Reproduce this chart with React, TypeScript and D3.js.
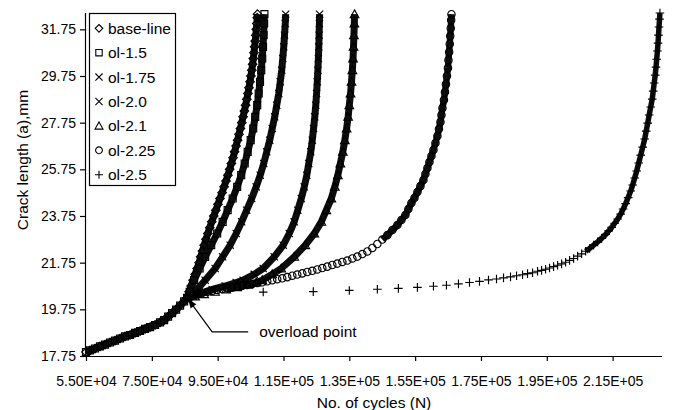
import * as d3 from "d3";
import React, { useEffect, useRef } from "react";

const W = 675;
const H = 410;

const xTicks = [55000, 75000, 95000, 115000, 135000, 155000, 175000, 195000, 215000];
const yTicks = [17.75, 19.75, 21.75, 23.75, 25.75, 27.75, 29.75, 31.75];
const seriesNames = ["base-line", "ol-1.5", "ol-1.75", "ol-2.0", "ol-2.1", "ol-2.25", "ol-2.5"];

// common growth up to the overload (N, a)
const preLoad = [
  [55000, 17.92], [56220, 17.99], [57740, 18.07], [59260, 18.16], [60780, 18.24], [62300, 18.33],
  [63820, 18.41], [65340, 18.5], [66860, 18.59], [68380, 18.65], [69900, 18.74], [71430, 18.82],
  [72950, 18.91], [74470, 18.99], [75990, 19.08], [77510, 19.19], [78730, 19.29], [79940, 19.44],
  [81160, 19.59], [82380, 19.74], [83590, 19.91], [84810, 20.09], [85720, 20.24],
];

const baseLine = [
  ...preLoad,
  [86330, 20.5], [86940, 20.75], [87550, 21], [88160, 21.25], [88770, 21.5], [89370, 21.75],
  [89830, 22], [90380, 22.25], [90900, 22.5], [91440, 22.75], [92020, 23], [92600, 23.25],
  [93210, 23.5], [93820, 23.75], [94450, 24], [95090, 24.25], [95700, 24.5], [96340, 24.75],
  [96950, 25], [97530, 25.25], [98110, 25.5], [98650, 25.75], [99170, 26], [99690, 26.25],
  [100140, 26.5], [100600, 26.75], [101060, 27], [101480, 27.25], [101910, 27.5], [102330, 27.75],
  [102730, 28], [103120, 28.25], [103490, 28.5], [103850, 28.75], [104190, 29], [104520, 29.25],
  [104830, 29.5], [105100, 29.75], [105380, 30], [105620, 30.25], [105830, 30.5], [106040, 30.75],
  [106230, 31], [106410, 31.25], [106590, 31.5], [106740, 31.75], [106900, 32], [107020, 32.25],
  [107110, 32.4],
];

const ol15 = [
  ...preLoad,
  [86500, 20.5], [87850, 21], [89530, 21.5], [91200, 22], [93030, 22.5], [94850, 23],
  [96520, 23.5], [98040, 24], [99570, 24.5], [100930, 25], [102150, 25.5], [103220, 26],
  [104130, 26.5], [105040, 27], [105800, 27.5], [106410, 28], [107020, 28.5], [107470, 29],
  [107870, 29.5], [108240, 30], [108540, 30.5], [108780, 31], [108970, 31.5], [109120, 32],
  [109210, 32.4],
];

const ol175 = [
  [85720, 20.24], [88160, 20.5], [91200, 21], [94240, 21.5], [96520, 22], [98800, 22.5],
  [100630, 23], [102300, 23.5], [103820, 24], [105350, 24.5], [106710, 25], [107930, 25.5],
  [109000, 26], [109910, 26.5], [110820, 27], [111580, 27.5], [112340, 28], [112950, 28.5],
  [113560, 29], [114020, 29.5], [114470, 30], [114780, 30.5], [115080, 31], [115320, 31.5],
  [115540, 32], [115660, 32.4],
];

const ol20 = [
  [85720, 20.24], [87550, 20.3], [89070, 20.4], [91200, 20.5], [93330, 20.6], [97280, 20.75],
  [100630, 20.9], [102760, 21], [106110, 21.25], [108840, 21.5], [112190, 22], [114930, 22.5],
  [116750, 23], [118270, 23.5], [119340, 24], [120400, 24.5], [121320, 25], [122080, 25.5],
  [122680, 26], [123290, 26.5], [123750, 27], [124140, 27.5], [124510, 28], [124810, 28.5],
  [125060, 29], [125270, 29.5], [125450, 30], [125600, 30.5], [125730, 31], [125820, 31.5],
  [125910, 32], [125970, 32.4],
];

const ol21 = [
  [85720, 20.24], [88160, 20.3], [90900, 20.4], [94240, 20.5], [97590, 20.6], [100930, 20.7],
  [104280, 20.8], [106710, 20.9], [108540, 21], [111580, 21.25], [114320, 21.5], [118270, 22],
  [121620, 22.5], [124360, 23], [126490, 23.5], [128010, 24], [129530, 24.5], [130590, 25],
  [131510, 25.5], [132270, 26], [133030, 26.5], [133640, 27], [134180, 27.5], [134640, 28],
  [135000, 28.5], [135370, 29], [135670, 29.5], [135920, 30], [136130, 30.5], [136280, 31],
  [136400, 31.5], [136530, 32], [136590, 32.4],
];

const ol225 = [
  [85720, 20.24], [87250, 20.32], [88770, 20.39], [90290, 20.45], [91810, 20.49], [93330, 20.54],
  [94850, 20.58], [96370, 20.62], [97890, 20.66], [99410, 20.69], [100930, 20.73], [102460, 20.76],
  [103980, 20.79], [105500, 20.84], [107020, 20.88], [108540, 20.91], [110060, 20.95], [111580, 21.0],
  [113100, 21.04], [114620, 21.08], [116140, 21.13], [117670, 21.19], [119190, 21.24], [120710, 21.29],
  [122230, 21.35], [123750, 21.4], [125270, 21.46], [126790, 21.52], [128310, 21.58], [129830, 21.65],
  [131350, 21.71], [132880, 21.78], [134400, 21.84], [135920, 21.93], [137440, 22.01], [138960, 22.12],
  [140480, 22.23], [142000, 22.38], [143520, 22.55], [145040, 22.74], [146560, 22.93], [148090, 23.15],
  [149610, 23.36], [150820, 23.58], [152040, 23.79], [152950, 24.05], [153870, 24.31], [154780, 24.52],
  [155690, 24.78], [156600, 25.03], [157520, 25.29], [158120, 25.55], [158730, 25.81], [159340, 26.06],
  [159950, 26.32], [160560, 26.58], [161170, 26.88], [161770, 27.18], [162230, 27.48], [162690, 27.78],
  [162990, 28.08], [163300, 28.38], [163750, 28.72], [164060, 29.06], [164360, 29.4], [164660, 29.75],
  [164970, 30.09], [165120, 30.43], [165330, 30.78], [165510, 31.12], [165660, 31.46], [165820, 31.8],
  [165940, 32.15], [166030, 32.4],
];

const ol25 = [
  [85720, 20.24], [108840, 20.49], [124050, 20.51], [135000, 20.56], [143520, 20.61], [149910, 20.65],
  [155690, 20.69], [160560, 20.74], [164510, 20.78], [168160, 20.84], [171510, 20.9], [174550, 20.95],
  [177290, 21.01], [179720, 21.05], [181850, 21.1], [183980, 21.14], [185810, 21.19], [187630, 21.23],
  [189150, 21.28], [190670, 21.32], [192190, 21.38], [193410, 21.42], [194630, 21.47], [195840, 21.52],
  [197060, 21.58], [198280, 21.64], [199500, 21.7], [200710, 21.77], [201930, 21.85], [203150, 21.93],
  [204360, 22.03], [205580, 22.13], [206800, 22.24], [208010, 22.36], [209230, 22.5], [210450, 22.64],
  [211660, 22.79], [212880, 22.96], [213790, 23.11], [214710, 23.26], [215620, 23.44], [216530, 23.62],
  [217440, 23.83], [218200, 24.05], [218960, 24.28], [219720, 24.54], [220490, 24.82], [221090, 25.08],
  [221700, 25.38], [222310, 25.68], [222920, 26.02], [223530, 26.36], [224140, 26.7], [224740, 27.05],
  [225200, 27.39], [225660, 27.73], [226110, 28.08], [226570, 28.42], [227030, 28.76], [227330, 29.1],
  [227630, 29.45], [227940, 29.79], [228180, 30.13], [228390, 30.47], [228610, 30.82], [228790, 31.16],
  [228940, 31.5], [229090, 31.85], [229250, 32.19], [229370, 32.45],
];

const seriesData = [baseLine, ol15, ol175, ol20, ol21, ol225, ol25];

// arrow to the overload point: tip, elbow, tail (N, a)
const arrowPts = [[86030, 20.19], [93330, 18.78], [104280, 18.78]];
const noteAt = [107630, 18.78];

// look of each series: marker glyph, and where the overlapping markers merge into a dark band
const markers = ["diamond", "square", "cross", "cross", "triangle", "circle", "plus"];
const bandFrom = [0, 0, 0, 0, 20.6, 22.6, 22.2];
const bandWidth = [7, 7, 7, 7, 7, 6.5, 5.5];

function markerPath(kind: string) {
  switch (kind) {
    case "diamond": return "M0,-4.3L4.3,0L0,4.3L-4.3,0Z";
    case "square": return "M-3.5,-3.5H3.5V3.5H-3.5Z";
    case "cross": return "M-3.6,-3.6L3.6,3.6M3.6,-3.6L-3.6,3.6";
    case "triangle": return "M0,-4.3L4.3,3.4L-4.3,3.4Z";
    case "circle": return "M3.7,0A3.7,3.7 0 1 1 -3.7,0A3.7,3.7 0 1 1 3.7,0Z";
    default: return "M-4.3,0H4.3M0,-4.3V4.3";
  }
}

function legendPath(kind: string) {
  switch (kind) {
    case "diamond": return "M0,-3.8L3.8,0L0,3.8L-3.8,0Z";
    case "square": return "M-3.2,-3.2H3.2V3.2H-3.2Z";
    case "cross": return "M-3.6,-3.6L3.6,3.6M3.6,-3.6L-3.6,3.6";
    case "triangle": return "M0,-4L4,3.2L-4,3.2Z";
    case "circle": return "M3.4,0A3.4,3.4 0 1 1 -3.4,0A3.4,3.4 0 1 1 3.4,0Z";
    default: return "M-4,0H4M0,-4V4";
  }
}

const fmtSci = (v: number) => {
  const [m, e] = v.toExponential(2).split("e");
  return m + "E" + e[0] + e.slice(1).padStart(2, "0");
};

const font = "'Liberation Sans', Arial, sans-serif";

export default function App() {
  const ref = useRef<SVGSVGElement>(null);

  useEffect(() => {
    const svg = d3.select(ref.current);
    svg.selectAll("*").remove();

    const left = 86, right = 662, top = 13, bottom = 356;
    const x = d3.scaleLinear().domain([55000, 230000]).range([left, right]);
    const y = d3.scaleLinear().domain([17.75, 32.45]).range([bottom, top]);

    // axes
    const gx = svg.append("g")
      .attr("transform", `translate(0,${bottom})`)
      .call(d3.axisBottom(x).tickValues(xTicks).tickFormat((d) => fmtSci(+d)).tickSize(5).tickSizeOuter(0).tickPadding(15));
    const gy = svg.append("g")
      .attr("transform", `translate(${left},0)`)
      .call(d3.axisLeft(y).tickValues(yTicks).tickFormat(d3.format(".2f")).tickSize(6).tickSizeOuter(0).tickPadding(4));
    [gx, gy].forEach((g) => {
      g.selectAll("text").attr("font-family", font).attr("font-size", 14).attr("fill", "#000");
      g.selectAll("line,path").attr("stroke", "#000").attr("stroke-width", 1.2);
    });
    gx.select(".domain").attr("d", `M${left},0.5H${right}`);
    gy.select(".domain").attr("d", `M-0.5,${top}V${bottom}`);

    const line = d3.line<number[]>().x((d) => x(d[0])).y((d) => y(d[1]));

    seriesData.forEach((data, i) => {
      const g = svg.append("g");
      const bandPts = data.filter((d) => d[1] >= bandFrom[i]);
      g.append("path")
        .attr("d", line(bandPts))
        .attr("fill", "none")
        .attr("stroke", "#0d0d0d")
        .attr("stroke-width", bandWidth[i])
        .attr("stroke-linejoin", "round");
      g.selectAll("path.m")
        .data(data)
        .enter()
        .append("path")
        .attr("class", "m")
        .attr("d", markerPath(markers[i]))
        .attr("transform", (d) => `translate(${x(d[0])},${y(d[1])})`)
        .attr("fill", "none")
        .attr("stroke", "#000")
        .attr("stroke-width", 1.15);
    });

    // overload annotation
    const [tip, elbow, tail] = arrowPts.map((p) => [x(p[0]), y(p[1])]);
    svg.append("path")
      .attr("d", `M${tail[0]},${tail[1]}L${elbow[0]},${elbow[1]}L${tip[0]},${tip[1]}`)
      .attr("fill", "none")
      .attr("stroke", "#000")
      .attr("stroke-width", 1.2);
    const ang = Math.atan2(tip[1] - elbow[1], tip[0] - elbow[0]);
    const hl = 9, hw = 3.5;
    const bx = tip[0] - hl * Math.cos(ang), by = tip[1] - hl * Math.sin(ang);
    svg.append("path")
      .attr("d", `M${tip[0]},${tip[1]}L${bx + hw * Math.sin(ang)},${by - hw * Math.cos(ang)}L${bx - hw * Math.sin(ang)},${by + hw * Math.cos(ang)}Z`)
      .attr("fill", "#000");
    svg.append("text")
      .attr("x", x(noteAt[0]))
      .attr("y", y(noteAt[1]) + 5.5)
      .attr("font-family", font)
      .attr("font-size", 15.5)
      .text("overload point");

    // legend
    const lg = svg.append("g");
    lg.append("rect")
      .attr("x", 89.5).attr("y", 13.5).attr("width", 86).attr("height", 172)
      .attr("fill", "#fff").attr("stroke", "#000").attr("stroke-width", 1.2);
    seriesNames.forEach((name, i) => {
      const cy = 28.3 + i * 24.4;
      lg.append("path")
        .attr("d", legendPath(markers[i]))
        .attr("transform", `translate(99,${cy})`)
        .attr("fill", "none").attr("stroke", "#000").attr("stroke-width", 1.1);
      lg.append("text")
        .attr("x", 108).attr("y", cy + 5.5)
        .attr("font-family", font).attr("font-size", 15.5)
        .text(name);
    });

    // axis titles
    svg.append("text")
      .attr("x", (left + right) / 2).attr("y", 408)
      .attr("text-anchor", "middle")
      .attr("font-family", font).attr("font-size", 15.5)
      .text("No. of cycles (N)");
    svg.append("text")
      .attr("transform", `translate(28,160) rotate(-90)`)
      .attr("text-anchor", "middle")
      .attr("font-family", font).attr("font-size", 15.5)
      .text("Crack length (a),mm");
  }, []);

  return (
    <svg ref={ref} width={W} height={H} style={{ position: "absolute", left: 0, top: 0, background: "#fff" }} />
  );
}
